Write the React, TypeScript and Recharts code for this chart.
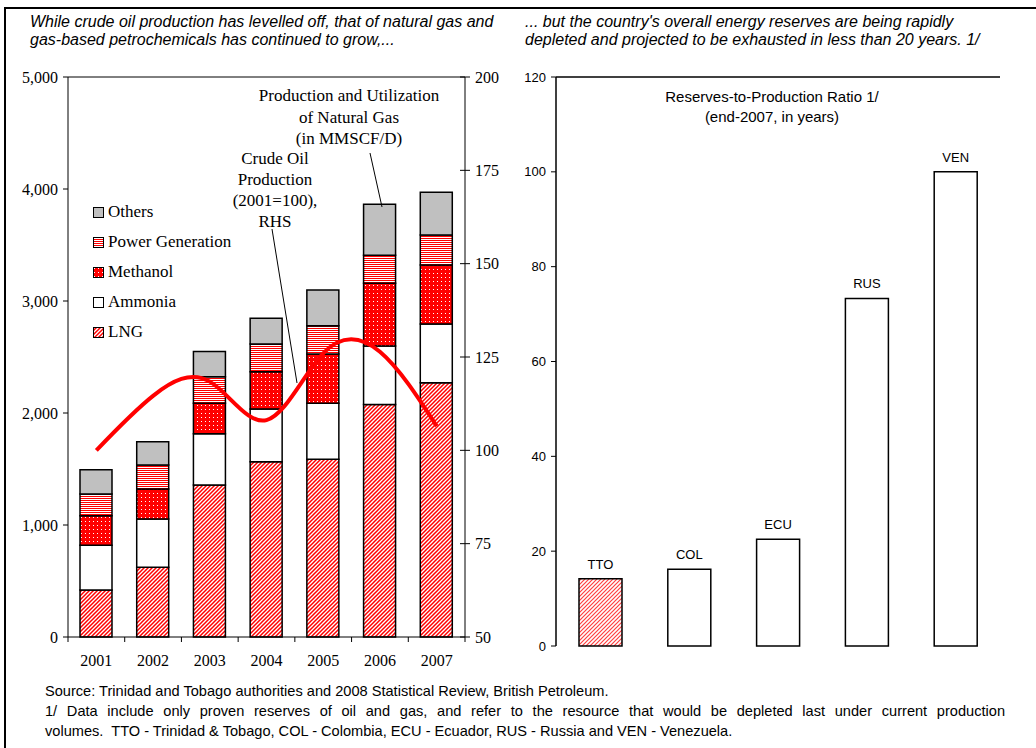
import React from 'react';
import {
  ComposedChart,
  BarChart,
  Bar,
  Line,
  XAxis,
  YAxis,
  ReferenceLine,
  LabelList,
  Cell,
} from 'recharts';

// Natural gas production and utilization (MMSCF/D), stacked bottom to top
const years = ['2001', '2002', '2003', '2004', '2005', '2006', '2007'];
const lng = [420, 622, 1357, 1565, 1586, 2077, 2271];
const ammonia = [400, 432, 458, 471, 500, 521, 524];
const methanol = [262, 267, 271, 333, 441, 560, 526];
const powerGen = [194, 215, 238, 247, 252, 250, 268];
const others = [217, 208, 224, 229, 319, 455, 381];
// Crude oil production index (2001=100), right-hand scale
const crudeOil = [100, 114.6, 118.4, 108.1, 126.0, 126.4, 106.5];

const gasTicks = [0, 1000, 2000, 3000, 4000, 5000];
const oilTicks = [50, 75, 100, 125, 150, 175, 200];

// Reserves-to-production ratio, end-2007, in years
const countries = ['TTO', 'COL', 'ECU', 'RUS', 'VEN'];
const rpRatio = [14.2, 16.2, 22.5, 73.3, 100];
const rpTicks = [0, 20, 40, 60, 80, 100, 120];

const SERIF = '"Liberation Serif", "Times New Roman", serif';
const SANS = '"Liberation Sans", Arial, sans-serif';

const gasData = years.map((year, i) => ({
  year,
  lng: lng[i],
  ammonia: ammonia[i],
  methanol: methanol[i],
  power: powerGen[i],
  others: others[i],
  oil: crudeOil[i],
}));

const rpData = countries.map((country, i) => ({ country, ratio: rpRatio[i] }));

const FILLS = {
  lng: 'url(#lngHatch)',
  ammonia: '#ffffff',
  methanol: 'url(#methDots)',
  power: 'url(#powerStripes)',
  others: '#c0c0c0',
};

const legendItems = [
  { key: 'others', label: 'Others' },
  { key: 'power', label: 'Power Generation' },
  { key: 'methanol', label: 'Methanol' },
  { key: 'ammonia', label: 'Ammonia' },
  { key: 'lng', label: 'LNG' },
];

// left panel plot box
const PLOT_W = 397;
const BAND = PLOT_W / years.length;
const TICK = 5;
const X_GAP = 13;
const Y_GAP = 5;

function Patterns() {
  return (
    <svg width={0} height={0} style={{ position: 'absolute' }}>
      <defs>
        <pattern id="lngHatch" width={4} height={4} patternUnits="userSpaceOnUse">
          <rect width={4} height={4} fill="#ffffff" />
          <path d="M-1,1 l2,-2 M0,4 l4,-4 M3,5 l2,-2" stroke="#ff0000" strokeWidth={1.5} />
        </pattern>
        <pattern id="ttoHatch" width={4} height={4} patternUnits="userSpaceOnUse">
          <rect width={4} height={4} fill="#ffffff" />
          <path d="M-1,1 l2,-2 M0,4 l4,-4 M3,5 l2,-2" stroke="#ff4040" strokeWidth={1.2} />
        </pattern>
        <pattern id="methDots" width={4} height={4} patternUnits="userSpaceOnUse">
          <rect width={4} height={4} fill="#ff0000" />
          <rect x={1} y={1} width={1} height={1} fill="#ffffff" />
        </pattern>
        <pattern id="powerStripes" width={4} height={2} patternUnits="userSpaceOnUse">
          <rect width={4} height={2} fill="#ffffff" />
          <rect width={4} height={1} fill="#ff0000" />
        </pattern>
      </defs>
    </svg>
  );
}

// year label plus the category boundary ticks below the axis
function YearTick(props: any) {
  const { x, y, payload, index, visibleTicksCount } = props;
  const axisY = y - TICK - X_GAP;
  const left = x - BAND / 2;
  const right = x + BAND / 2;
  return (
    <g>
      <line x1={left} x2={left} y1={axisY} y2={axisY + TICK} stroke="#000" />
      {index === visibleTicksCount - 1 && (
        <line x1={right} x2={right} y1={axisY} y2={axisY + TICK} stroke="#000" />
      )}
      <text x={x} y={y} dy="0.71em" textAnchor="middle" fill="#000" fontSize={16} fontFamily={SERIF}>
        {payload.value}
      </text>
    </g>
  );
}

// right-hand ticks cross the axis line
function CrossTick(props: any) {
  const { x, y, payload } = props;
  const axisX = x - TICK - Y_GAP;
  return (
    <g>
      <line x1={axisX - TICK} x2={axisX + TICK} y1={y} y2={y} stroke="#000" />
      <text x={x} y={y} dy="0.35em" textAnchor="start" fill="#000" fontSize={16} fontFamily={SERIF}>
        {payload.value}
      </text>
    </g>
  );
}

function GasChart() {
  return (
    <ComposedChart
      width={520}
      height={670}
      data={gasData}
      margin={{ top: 77, right: 5, bottom: 3, left: 0 }}
    >
      <XAxis
        dataKey="year"
        interval={0}
        height={30}
        tickSize={TICK}
        tickMargin={X_GAP}
        tickLine={false}
        axisLine={{ stroke: '#000' }}
        tick={<YearTick />}
      />
      <YAxis
        yAxisId="gas"
        width={68}
        domain={[0, 5000]}
        ticks={gasTicks}
        interval={0}
        tickFormatter={(v: number) => v.toLocaleString('en-US')}
        tickSize={TICK}
        tickMargin={Y_GAP}
        axisLine={{ stroke: '#000' }}
        tickLine={{ stroke: '#000' }}
        tick={{ fill: '#000', fontSize: 16, fontFamily: SERIF }}
      />
      <YAxis
        yAxisId="oil"
        orientation="right"
        width={50}
        domain={[50, 200]}
        ticks={oilTicks}
        interval={0}
        tickSize={TICK}
        tickMargin={Y_GAP}
        tickLine={false}
        axisLine={{ stroke: '#000' }}
        tick={<CrossTick />}
      />
      <ReferenceLine yAxisId="gas" y={5000} stroke="#000" />
      {(['lng', 'ammonia', 'methanol', 'power', 'others'] as const).map((key) => (
        <Bar
          key={key}
          yAxisId="gas"
          dataKey={key}
          stackId="gas"
          barSize={32}
          fill={FILLS[key]}
          stroke="#000"
          strokeWidth={1.5}
          isAnimationActive={false}
        />
      ))}
      <Line
        yAxisId="oil"
        type="natural"
        dataKey="oil"
        stroke="#ff0000"
        strokeWidth={4}
        dot={false}
        activeDot={false}
        isAnimationActive={false}
      />
    </ComposedChart>
  );
}

function ReservesChart() {
  return (
    <BarChart
      width={536}
      height={660}
      data={rpData}
      margin={{ top: 77, right: 36, bottom: 14, left: 0 }}
    >
      <XAxis
        dataKey="country"
        height={0}
        tick={false}
        tickLine={false}
        axisLine={{ stroke: '#000', strokeWidth: 1.5 }}
      />
      <YAxis
        yAxisId="rp"
        width={56}
        domain={[0, 120]}
        ticks={rpTicks}
        interval={0}
        tickSize={TICK}
        tickMargin={Y_GAP}
        axisLine={{ stroke: '#000', strokeWidth: 1.5 }}
        tickLine={{ stroke: '#000' }}
        tick={{ fill: '#000', fontSize: 13, fontFamily: SANS }}
      />
      <YAxis
        yAxisId="frame"
        orientation="right"
        width={0}
        domain={[0, 120]}
        tick={false}
        tickLine={false}
        axisLine={{ stroke: '#000', strokeWidth: 1.5 }}
      />
      <ReferenceLine yAxisId="rp" y={120} stroke="#000" strokeWidth={1.5} />
      <Bar
        yAxisId="rp"
        dataKey="ratio"
        barSize={43}
        stroke="#000"
        strokeWidth={1.5}
        isAnimationActive={false}
      >
        {rpData.map((d, i) => (
          <Cell key={d.country} fill={i === 0 ? 'url(#ttoHatch)' : '#ffffff'} />
        ))}
        <LabelList
          dataKey="country"
          position="top"
          offset={10}
          fill="#000"
          fontSize={13}
          fontFamily={SANS}
        />
      </Bar>
    </BarChart>
  );
}

function GasLegend() {
  return (
    <div style={{ position: 'absolute', left: 93, top: 197, fontFamily: SERIF, fontSize: 17 }}>
      {legendItems.map((item, i) => (
        <div
          key={item.key}
          style={{
            position: 'absolute',
            top: i * 30,
            left: 0,
            height: 30,
            display: 'flex',
            alignItems: 'center',
            whiteSpace: 'nowrap',
          }}
        >
          <svg width={11} height={11} style={{ marginRight: 4 }}>
            <rect x={0.5} y={0.5} width={10} height={10} fill={FILLS[item.key as keyof typeof FILLS]} stroke="#000" />
          </svg>
          <span>{item.label}</span>
        </div>
      ))}
    </div>
  );
}

function Annotations() {
  const serif = { fontFamily: SERIF, fontSize: 17, fill: '#000' };
  const sans = { fontFamily: SANS, fontSize: 15, fill: '#000' };
  return (
    <svg
      width={1036}
      height={748}
      style={{ position: 'absolute', left: 0, top: 0, pointerEvents: 'none' }}
    >
      <g textAnchor="middle" {...serif}>
        <text x={349} y={101}>Production and Utilization</text>
        <text x={349} y={123}>of Natural Gas</text>
        <text x={349} y={144}>(in MMSCF/D)</text>
        <text x={275} y={164}>Crude Oil</text>
        <text x={275} y={185}>Production</text>
        <text x={275} y={206}>(2001=100),</text>
        <text x={275} y={227}>RHS</text>
      </g>
      <line x1={370} y1={153} x2={382} y2={207} stroke="#000" />
      <line x1={272} y1={229} x2={297} y2={383} stroke="#000" />
      <g textAnchor="middle" {...sans}>
        <text x={772} y={102}>Reserves-to-Production Ratio 1/</text>
        <text x={772} y={122}>(end-2007, in years)</text>
      </g>
    </svg>
  );
}

export default function App() {
  const title = {
    position: 'absolute' as const,
    fontFamily: SANS,
    fontStyle: 'italic' as const,
    fontSize: 16,
    lineHeight: '18px',
    whiteSpace: 'nowrap' as const,
  };
  return (
    <div
      style={{
        position: 'absolute',
        left: 0,
        top: 0,
        width: 1036,
        height: 748,
        overflow: 'hidden',
        background: '#fff',
      }}
    >
      <Patterns />
      <div
        style={{
          position: 'absolute',
          left: 4,
          top: 7,
          width: 1100,
          height: 800,
          borderTop: '2px solid #000',
          borderLeft: '2px solid #000',
        }}
      />
      <div style={{ ...title, left: 30, top: 13 }}>
        While crude oil production has levelled off, that of natural gas and
        <br />
        gas-based petrochemicals has continued to grow,...
      </div>
      <div style={{ ...title, left: 525, top: 13 }}>
        ... but the country's overall energy reserves are being rapidly
        <br />
        depleted and projected to be exhausted in less than 20 years. 1/
      </div>
      <div style={{ position: 'absolute', left: 0, top: 0 }}>
        <GasChart />
      </div>
      <div style={{ position: 'absolute', left: 500, top: 0 }}>
        <ReservesChart />
      </div>
      <GasLegend />
      <Annotations />
      <div
        style={{
          position: 'absolute',
          left: 45,
          top: 681,
          width: 960,
          fontFamily: SANS,
          fontSize: 14.6,
          lineHeight: '20px',
          whiteSpace: 'nowrap',
        }}
      >
        <div>Source: Trinidad and Tobago authorities and 2008 Statistical Review, British Petroleum.</div>
        <div style={{ textAlign: 'justify', textAlignLast: 'justify' }}>
          1/ Data include only proven reserves of oil and gas, and refer to the resource that would be depleted last under current production
        </div>
        <div style={{ whiteSpace: 'pre' }}>volumes.  TTO - Trinidad &amp; Tobago, COL - Colombia, ECU - Ecuador, RUS - Russia and VEN - Venezuela.</div>
      </div>
    </div>
  );
}
